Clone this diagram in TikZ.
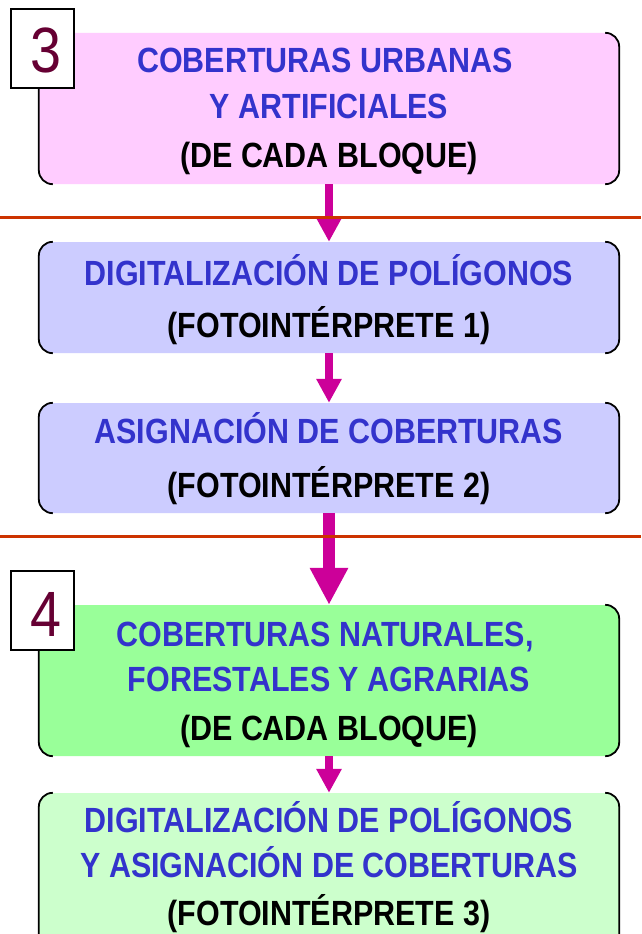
\documentclass[tikz,border=0pt]{standalone}
\usepackage{fontspec}
\setmainfont{Liberation Sans}
\newfontfamily\nfont[FakeStretch=0.87]{Liberation Sans}
\usetikzlibrary{arrows.meta}
\definecolor{pinkf}{HTML}{FFCCFF}
\definecolor{lavf}{HTML}{CCCCFF}
\definecolor{greenf}{HTML}{99FF99}
\definecolor{lgreenf}{HTML}{CCFFCC}
\definecolor{ttlblue}{HTML}{3333CC}
\definecolor{numcol}{HTML}{660033}
\definecolor{arrcol}{HTML}{CC0099}
\definecolor{sepcol}{HTML}{CC3300}
\tikzset{
  boxfill/.style={rectangle, inner sep=0pt, minimum width=580pt, rounded corners=14pt},
  brk/.style={draw=black, line width=1.8pt, rounded corners=14pt},
  ttl/.style={anchor=base, inner sep=0pt, text=ttlblue, font=\nfont\bfseries\fontsize{35}{40}\selectfont},
  subt/.style={anchor=base, inner sep=0pt, text=black, font=\nfont\bfseries\fontsize{35}{40}\selectfont},
  numbox/.style={draw=black, line width=1.5pt, fill=white, minimum width=63pt, minimum height=79pt, inner sep=0pt},
  numtxt/.style={anchor=base, inner sep=0pt, text=numcol, font=\nfont\fontsize{64}{70}\selectfont},
  sepline/.style={draw=sepcol, line width=3pt},
  arr/.style={draw=arrcol, line width=8pt, -{Triangle[width=24pt,length=24pt]}},
  bigarr/.style={draw=arrcol, line width=12pt, -{Triangle[width=36pt,length=37pt]}},
}
\newcommand\bracketbox[1]{%
  \draw[brk] ([xshift=14pt]#1.north west) -- (#1.north west) -- (#1.south west) -- ([xshift=14pt]#1.south west);
  \draw[brk] ([xshift=-14pt]#1.north east) -- (#1.north east) -- (#1.south east) -- ([xshift=-14pt]#1.south east);
}
\begin{document}
\begin{tikzpicture}[x=1pt,y=-1pt]
\useasboundingbox (0,0) rectangle (641,934);
\clip (0,0) rectangle (641,934);
\fill[white] (0,0) rectangle (641,934);
% boxes
\node[boxfill, fill=pinkf, minimum height=151pt] (b1) at (329,108.5) {};
\node[boxfill, fill=lavf, minimum height=111pt] (b2) at (329,297.5) {};
\node[boxfill, fill=lavf, minimum height=110pt] (b3) at (329,458) {};
\node[boxfill, fill=greenf, minimum height=151pt] (b4) at (329,680.5) {};
\node[boxfill, fill=lgreenf, minimum height=157pt] (b5) at (329,871.5) {};
\bracketbox{b1}
\bracketbox{b2}
\bracketbox{b3}
\bracketbox{b4}
\bracketbox{b5}
% texts
\node[ttl] (t11) at (325,73) {COBERTURAS URBANAS};
\node[ttl] (t12) at (329,118) {Y ARTIFICIALES};
\node[subt] (t13) at (329,167) {(DE CADA BLOQUE)};
\node[ttl] (t21) at (329,285) {DIGITALIZACIÓN DE POLÍGONOS};
\node[subt] (t22) at (329,337) {(FOTOINTÉRPRETE 1)};
\node[ttl] (t31) at (329,443) {ASIGNACIÓN DE COBERTURAS};
\node[subt] (t32) at (329,497) {(FOTOINTÉRPRETE 2)};
\node[ttl] (t41) at (325,646) {COBERTURAS NATURALES,};
\node[ttl] (t42) at (329,691) {FORESTALES Y AGRARIAS};
\node[subt] (t43) at (329,740) {(DE CADA BLOQUE)};
\node[ttl] (t51) at (329,832) {DIGITALIZACIÓN DE POLÍGONOS};
\node[ttl] (t52) at (329,877) {Y ASIGNACIÓN DE COBERTURAS};
\node[subt] (t53) at (329,925) {(FOTOINTÉRPRETE 3)};
% arrows
\draw[arr] (b1.south) -- (b2.north);
\draw[arr] (b2.south) -- (b3.north);
\draw[bigarr] (b3.south) -- (b4.north);
\draw[arr] (b4.south) -- (b5.north);
% separator lines
\coordinate (s1a) at (0,217);
\coordinate (s1b) at (641,217);
\coordinate (s2a) at (0,536);
\coordinate (s2b) at (641,536);
\draw[sepline] (s1a) -- (s1b);
\draw[sepline] (s2a) -- (s2b);
% number labels
\node[numbox] (n3) at (42.5,48.5) {};
\node[numtxt] (d3) at (46,73) {3};
\node[numbox] (n4) at (42.5,610.5) {};
\node[numtxt] (d4) at (46,636) {4};
\end{tikzpicture}
\end{document}
